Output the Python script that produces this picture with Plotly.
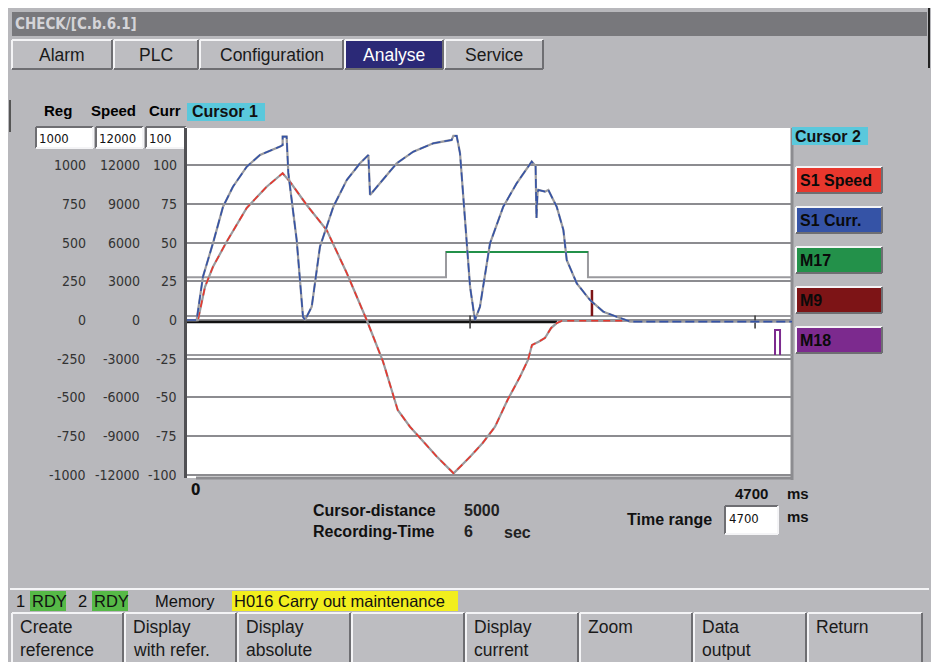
import plotly.graph_objects as go

# ---------------- data (time in ms, values in % of full scale) ----------------
speed_time = [0, 85, 140, 202, 308, 464, 619, 743, 800, 930, 1085, 1241, 1396, 1523, 1637,
              1732, 1846, 1942, 2071, 2199, 2297, 2393, 2490, 2587, 2649, 2680, 2732, 2781,
              2828, 2874, 2913, 3442]
speed_pct = [0, 0, 21.5, 34.4, 50.6, 72.4, 86.1, 94.8, 89.3, 74.3, 58.1, 30.4, 0, -26.9, -58.1,
             -68.9, -79.4, -88.3, -99, -88.3, -79.4, -68.9, -51.7, -36.6, -25.8, -16.1, -14.0,
             -11.6, -5.2, -1.9, -0.5, -0.5]

curr_time = [0, 75, 124, 202, 280, 357, 464, 567, 723, 743, 743, 774, 787, 852, 901, 917, 969,
             1033, 1137, 1241, 1344, 1409, 1422, 1499, 1629, 1758, 1913, 2056, 2069, 2095, 2121,
             2160, 2199, 2237, 2276, 2354, 2457, 2561, 2678, 2708, 2715, 2723, 2729, 2781, 2807,
             2872, 2924, 2950, 3028, 3131, 3234, 3338, 3442, 4700]
curr_pct = [0, 0, 28.0, 49.7, 73.2, 86.1, 99.0, 106.6, 112.0, 113.0, 118.4, 118.4, 95.0, 51.7,
            2.1, 0, 8.6, 47.4, 73.2, 90.4, 101.2, 106.6, 80.7, 88.5, 101.2, 108.7, 114.1, 116.3,
            118.9, 118.9, 107.7, 64.6, 21.5, 0, 8.6, 49.5, 73.2, 88.3, 102.3, 99.5, 65.9, 82.0,
            84.0, 82.9, 84.0, 73.2, 58.1, 38.8, 23.7, 12.9, 5.4, 2.1, -1.0, -1.0]

reg_time = [0, 2874]
reg_value = [-1.3, -1.3]

m17_time = [0, 2012, 2012, 3115, 3115, 4700]
m17_level = [27.7, 27.7, 43.9, 43.9, 27.7, 27.7]

m9_time = [0, 3146, 3146, 3146, 4700]
m9_level = [2.6, 2.6, 19.4, 2.6, 2.6]

m18_time = [0, 4568, 4568, 4607, 4607, 4700]
m18_level = [-22.6, -22.6, -6.5, -6.5, -22.6, -22.6]

cursor_ticks = [2199, 4413]

grid_values = [100, 75, 50, 25, 0, -25, -50, -75, -100]
reg_ticks = ["1000", "750", "500", "250", "0", "-250", "-500", "-750", "-1000"]
speed_ticks = ["12000", "9000", "6000", "3000", "0", "-3000", "-6000", "-9000", "-12000"]
curr_ticks = ["100", "75", "50", "25", "0", "-25", "-50", "-75", "-100"]

channels = ["S1 Speed", "S1 Curr.", "M17", "M9", "M18"]
channel_colors = ["#e8372d", "#3553a6", "#23914a", "#7d1416", "#7c2a8e"]

tabs = ["Alarm", "PLC", "Configuration", "Analyse", "Service"]
softkeys = [("Create", "reference"), ("Display", "with refer."), ("Display", "absolute"),
            ("", ""), ("Display", "current"), ("Zoom", ""), ("Data", "output"), ("Return", "")]

# ---------------- layout helpers (pixel -> paper) ----------------
W, H = 942, 662
PL, PR, PT, PB = 187, 792, 128, 478
FONT = "Liberation Sans, Arial, sans-serif"
NARROW = "Liberation Sans Narrow, DejaVu Sans Condensed, Arial Narrow, sans-serif"


def px(x):
    return (x - PL) / (PR - PL)


def py(y):
    return (PB - y) / (PB - PT)


shapes = []
annotations = []


def rect(x0, y0, x1, y1, fill, line=None, width=0):
    shapes.append(dict(type="rect", xref="paper", yref="paper", x0=px(x0), x1=px(x1),
                       y0=py(y1), y1=py(y0), fillcolor=fill, layer="below",
                       line=dict(width=width, color=line or fill)))


def seg(x0, y0, x1, y1, color, width=1):
    shapes.append(dict(type="line", xref="paper", yref="paper", x0=px(x0), x1=px(x1),
                       y0=py(y0), y1=py(y1), layer="below", line=dict(color=color, width=width)))


def bevel(x0, y0, x1, y1, fill, raised=True):
    rect(x0, y0, x1, y1, fill)
    lt, dk = ("#f4f4f6", "#6e6e72") if raised else ("#6e6e72", "#f4f4f6")
    seg(x0, y0, x1, y0, lt, 2)
    seg(x0, y0, x0, y1, lt, 2)
    seg(x0, y1, x1, y1, dk, 2)
    seg(x1, y0, x1, y1, dk, 2)


def txt(x, y, s, size=14, color="#111111", bold=False, xanchor="left", family=FONT, bg=None):
    if bold:
        s = "<b>" + s + "</b>"
    d = dict(x=px(x), y=py(y), xref="paper", yref="paper", text=s, showarrow=False,
             xanchor=xanchor, yanchor="middle", font=dict(size=size, color=color, family=family))
    if bg:
        d["bgcolor"] = bg
    annotations.append(d)


# screen background
rect(8, 8, 931, 662, "#b8b8bc")
seg(929, 8, 929, 68, "#222222", 2)
# title bar
rect(12, 12, 927, 36, "#78787c")
txt(13, 24, "CHECK/[C.b.6.1]", 15, "#d4d4d8", True, family="DejaVu Sans Condensed, " + FONT)
# tabs
tab_edges = [12, 114, 200, 345, 445, 545]
for i, name in enumerate(tabs):
    x0, x1 = tab_edges[i], tab_edges[i + 1] - 2
    active = name == "Analyse"
    bevel(x0, 40, x1, 69, "#2b2977" if active else "#bdbdc1")
    txt((x0 + x1) / 2, 55, name, 17.5, "#ffffff" if active else "#1a1a1a", xanchor="center")

# left panel header and input boxes
seg(10, 100, 10, 132, "#555555", 2)
txt(58, 110, "Reg", 15, "#000000", True, xanchor="center")
txt(113, 110, "Speed", 15, "#000000", True, xanchor="center")
txt(165, 110, "Curr", 15, "#000000", True, xanchor="center")
for (x0, x1, val) in [(36, 93, "1000"), (96, 143, "12000"), (146, 186, "100")]:
    bevel(x0, 127, x1, 148, "#ffffff", raised=False)
    txt(x0 + 1, 138, val, 13, "#111111", family=NARROW)

# plot area (white) and borders
rect(PL, PT, PR, PB, "#ffffff")
seg(PR, 128, PR, 480, "#8c8c90", 3)
seg(196, PB, PR, PB, "#8c8c90", 3)

# tick label columns
for v, a, b, c in zip(grid_values, reg_ticks, speed_ticks, curr_ticks):
    for xr, lab in [(88, a), (142, b), (179, c)]:
        annotations.append(dict(x=px(xr), y=v, xref="paper", yref="y", text=lab, showarrow=False,
                                xanchor="right", yanchor="middle",
                                font=dict(size=14, color="#333333", family=NARROW)))

# cursor labels
rect(187, 103, 265, 121, "#5ac8dc")
txt(190, 112, "Cursor 1", 16, "#111111", True)
rect(792, 127, 868, 145, "#5ac8dc")
txt(793, 136, "Cursor 2", 16, "#111111", True)

# channel buttons
for i, (name, col) in enumerate(zip(channels, channel_colors)):
    y0 = 167 + 40 * i
    bevel(796, y0, 882, y0 + 26, col)
    txt(798, y0 + 13, name, 16, "#0a0a0a", True)

# bottom texts
txt(189, 490, "0", 15, "#111111", True, family="DejaVu Sans Condensed, " + FONT)
txt(733, 493, "4700", 15, "#111111", True)
txt(785, 493, "ms", 15, "#111111", True)
txt(311, 510, "Cursor-distance", 16, "#111111", True)
txt(462, 510, "5000", 16, "#222222", True)
txt(311, 531, "Recording-Time", 16, "#111111", True)
txt(462, 531, "6", 16, "#222222", True)
txt(502, 532, "sec", 16, "#222222", True)
txt(625, 519, "Time range", 16, "#111111", True)
bevel(725, 506, 778, 534, "#ffffff", raised=False)
txt(727, 518, "4700", 13, "#111111", family=NARROW)
txt(785, 516, "ms", 15, "#111111", True)

# status bar
seg(10, 589, 929, 589, "#f4f4f6", 2)
txt(14, 601, "1", 16.5, "#111111")
rect(30, 591, 66, 611, "#56b947")
txt(30, 601, "RDY", 16.5, "#111111")
txt(76, 601, "2", 16.5, "#111111")
rect(92, 591, 128, 611, "#56b947")
txt(92, 601, "RDY", 16.5, "#111111")
txt(153, 601, "Memory", 16.5, "#111111")
rect(232, 591, 458, 611, "#f2ee1e")
txt(232, 601, "H016 Carry out maintenance", 16.5, "#111111")

# softkeys
sk_edges = [12, 125, 238, 352, 466, 580, 694, 808, 924]
for i, (l1, l2) in enumerate(softkeys):
    x0, x1 = sk_edges[i], sk_edges[i + 1] - 2
    bevel(x0, 613, x1, 664, "#bdbdc1")
    txt(x0 + 6, 627, l1, 17.5, "#1a1a1a")
    txt(x0 + 6, 650, l2, 17.5, "#1a1a1a")

# ---------------- traces ----------------
fig = go.Figure()


def line(x, y, color, width=2, dash=None):
    fig.add_trace(go.Scatter(x=x, y=y, mode="lines", hoverinfo="skip", showlegend=False,
                             line=dict(color=color, width=width, dash=dash)))


GRAY = "#9a9a9e"
# digital channels
line(m17_time, m17_level, GRAY, 2)
line(m17_time[2:4], m17_level[2:4], channel_colors[2], 2)
line([m9_time[0], m9_time[-1]], [m9_level[0], m9_level[-1]], GRAY, 2)
line(m9_time[1:4], m9_level[1:4], channel_colors[3], 2.5)
line([m18_time[0], m18_time[-1]], [m18_level[0], m18_level[-1]], GRAY, 2)
line(m18_time[1:5], m18_level[1:5], channel_colors[4], 2)

# reference zero line
line(reg_time, reg_value, "#111111", 2.5)
# cursor ticks
cx, cy = [], []
for t in cursor_ticks:
    cx += [t, t, None]
    cy += [3, -5.5, None]
line(cx, cy, "#333333", 1.5)

# analog channels: gray underlay with coloured dashes on top
line(speed_time, speed_pct, GRAY, 2.2)
line(speed_time, speed_pct, channel_colors[0], 1.6, "7px,5px")
line(curr_time, curr_pct, GRAY, 2.2)
line(curr_time, curr_pct, channel_colors[1], 1.6, "9px,4px")

fig.update_layout(
    width=W, height=H, autosize=False,
    margin=dict(l=PL, r=W - PR, t=PT, b=H - PB, pad=0),
    paper_bgcolor="#ffffff", plot_bgcolor="#ffffff",
    shapes=shapes, annotations=annotations,
    xaxis=dict(range=[0, 4700], showgrid=False, zeroline=False, showticklabels=False,
               ticks="", showline=False, fixedrange=True),
    yaxis=dict(range=[-102, 124], tickvals=grid_values, showgrid=True, gridcolor="#8c8c90",
               gridwidth=2, zeroline=False, showticklabels=False, ticks="",
               showline=True, linecolor="#505054", linewidth=3, fixedrange=True),
)

fig.write_html("out.html", config={"displayModeBar": False, "staticPlot": True},
               post_script="document.body.style.margin='0';document.body.style.overflow='hidden';")
